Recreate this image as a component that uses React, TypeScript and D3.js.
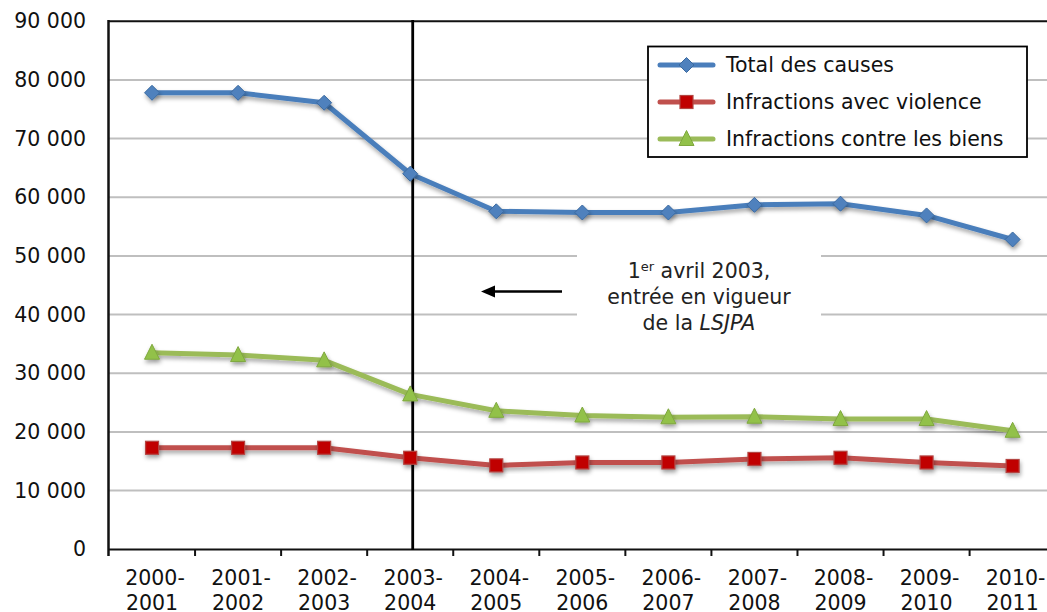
import React from "react";
import * as d3 from "d3";

const categories = [
  ["2000-", "2001"], ["2001-", "2002"], ["2002-", "2003"], ["2003-", "2004"],
  ["2004-", "2005"], ["2005-", "2006"], ["2006-", "2007"], ["2007-", "2008"],
  ["2008-", "2009"], ["2009-", "2010"], ["2010-", "2011"],
];
const totalCauses = [77800, 77800, 76100, 64000, 57600, 57400, 57400, 58700, 58900, 56900, 52800];
const violence = [17300, 17300, 17300, 15600, 14300, 14800, 14800, 15400, 15600, 14800, 14200];
const biens = [33500, 33100, 32200, 26400, 23600, 22800, 22500, 22600, 22200, 22200, 20200];
const yTicks = [0, 10000, 20000, 30000, 40000, 50000, 60000, 70000, 80000, 90000];
const seriesNames = ["Total des causes", "Infractions avec violence", "Infractions contre les biens"];
const markerLine = 3; // index of "2003-2004"

const W = 1047, H = 612;
const FONT = "'DejaVu Sans', Verdana, sans-serif";

const fmt = (v: number) => (v === 0 ? "0" : d3.format(",")(v).replace(/,/g, " "));

function Marker({ kind, x, y }: { kind: string; x: number; y: number }) {
  if (kind === "diamond") {
    const s = 7.5;
    return <path d={`M${x},${y - s}L${x + s},${y}L${x},${y + s}L${x - s},${y}Z`} fill="#4f81bd" stroke="#3b6aa0" strokeWidth={1} />;
  }
  if (kind === "square") {
    const s = 6.5;
    return <rect x={x - s} y={y - s} width={2 * s} height={2 * s} fill="#c00000" stroke="#b34542" strokeWidth={1.2} />;
  }
  const s = 7.5;
  return <path d={`M${x},${y - s - 1}L${x + s},${y + s - 1}L${x - s},${y + s - 1}Z`} fill="#92c14a" stroke="#7fa83e" strokeWidth={1} />;
}

export default function App() {
  const x0 = 109;
  const step = 86.06;
  const x = d3.scaleBand<number>().domain(d3.range(categories.length)).range([x0, x0 + step * categories.length]).padding(0);
  const y = d3.scaleLinear().domain([0, 90000]).range([549.3, 21.2]);
  const cx = (i: number) => (x(i) as number) + x.bandwidth() / 2;
  const line = d3.line<number>().x((_, i) => cx(i)).y((d) => y(d));

  const series = [
    { name: seriesNames[0], data: totalCauses, color: "#4a7ebb", marker: "diamond" },
    { name: seriesNames[1], data: violence, color: "#c0504d", marker: "square" },
    { name: seriesNames[2], data: biens, color: "#9bbb59", marker: "triangle" },
  ];

  const vx = cx(markerLine) + 2.5;
  const legendX = 648, legendY = 46.5;
  const rowY = [65, 102, 139];
  const arrowY = 291.5, arrowTip = 481, arrowEnd = 562;

  return (
    <svg width={W} height={H} style={{ position: "absolute", left: 0, top: 0, background: "#fff" }} fontFamily={FONT}>
      <defs>
        <filter id="sh" x="-20%" y="-20%" width="140%" height="160%">
          <feDropShadow dx="1" dy="3" stdDeviation="2" floodColor="#000" floodOpacity="0.35" />
        </filter>
      </defs>
      {/* gridlines */}
      {yTicks.filter((t) => t > 0 && t < 90000).map((t) => (
        <line key={t} x1={x0} x2={W} y1={y(t)} y2={y(t)} stroke="#bfbfbf" strokeWidth={2} />
      ))}
      <line x1={x0} x2={W} y1={y(90000)} y2={y(90000)} stroke="#111" strokeWidth={2} />
      {/* y labels */}
      {yTicks.map((t) => (
        <text key={t} x={86} y={y(t) + 7} textAnchor="end" fontSize={20.5} fill="#111">{fmt(t)}</text>
      ))}
      {/* annotation background */}
      <rect x={577} y={238} width={244} height={100} fill="#fff" />
      {/* axes */}
      <line x1={x0} x2={W} y1={549.5} y2={549.5} stroke="#111" strokeWidth={2} />
      <line x1={108.5} x2={108.5} y1={20} y2={556} stroke="#111" strokeWidth={2.5} />
      {d3.range(1, categories.length + 1).map((i) => {
        const tx = x0 + i * step;
        return <line key={i} x1={tx} x2={tx} y1={549.5} y2={556} stroke="#111" strokeWidth={2} />;
      })}
      {/* x labels */}
      {categories.map((c, i) => (
        <text key={i} x={cx(i)} textAnchor="middle" fontSize={20.5} fill="#111">
          <tspan x={cx(i) + 3} y={585}>{c[0]}</tspan>
          <tspan x={cx(i)} y={610}>{c[1]}</tspan>
        </text>
      ))}
      {/* vertical line */}
      <line x1={vx} x2={vx} y1={20} y2={550} stroke="#000" strokeWidth={2.8} />
      {/* series */}
      {series.map((s) => (
        <g key={s.name}>
          <path d={line(s.data) || ""} fill="none" stroke={s.color} strokeWidth={5} strokeLinejoin="round" filter="url(#sh)" />
          <g filter="url(#sh)">
            {s.data.map((d, i) => (
              <Marker key={i} kind={s.marker} x={cx(i)} y={y(d)} />
            ))}
          </g>
        </g>
      ))}
      {/* annotation */}
      <line x1={arrowEnd} x2={arrowTip + 10} y1={arrowY} y2={arrowY} stroke="#000" strokeWidth={2.5} />
      <path d={`M${arrowTip},${arrowY}L${arrowTip + 14},${arrowY - 6}L${arrowTip + 14},${arrowY + 6}Z`} fill="#000" />
      <text textAnchor="middle" fontSize={20.5} fill="#222">
        <tspan x={699} y={278}>1<tspan fontSize={13} dy={-7}>er</tspan><tspan dy={7}> avril 2003,</tspan></tspan>
        <tspan x={699} y={304}>entrée en vigueur</tspan>
        <tspan x={699} y={330}>de la <tspan fontStyle="italic">LSJPA</tspan></tspan>
      </text>
      {/* legend */}
      <rect x={legendX} y={legendY} width={379} height={110.5} fill="#fff" stroke="#000" strokeWidth={1.8} />
      {series.map((s, i) => (
        <g key={s.name}>
          <line x1={660} x2={713} y1={rowY[i]} y2={rowY[i]} stroke={s.color} strokeWidth={5} strokeLinecap="round" />
          <Marker kind={s.marker} x={686.5} y={rowY[i]} />
          <text x={726} y={rowY[i] + 7} fontSize={20.5} fill="#111">{s.name}</text>
        </g>
      ))}
    </svg>
  );
}
